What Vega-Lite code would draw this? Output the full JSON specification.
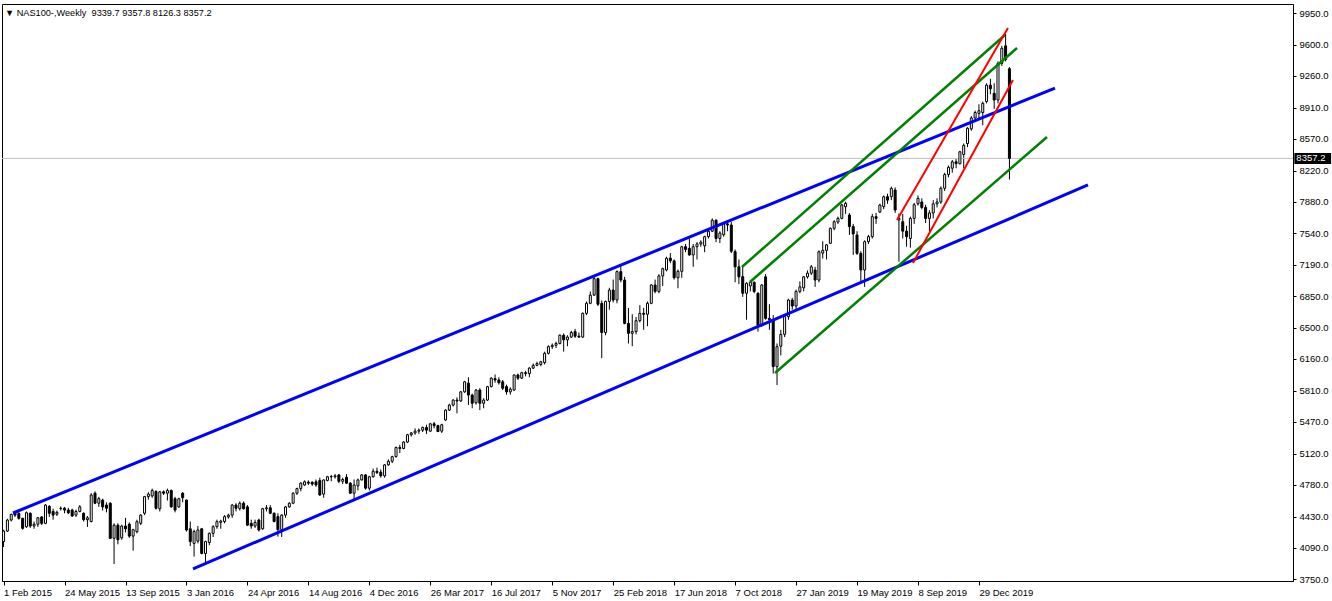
{
"$schema": "https://vega.github.io/schema/vega-lite/v6.json",
"width": 1291, "height": 577,
"autosize": {"type": "none"},
"padding": {"left": 2, "top": 4, "right": 39, "bottom": 20},
"background": "white",
"title": {"text": "▼ NAS100-,Weekly\u00a0 9339.7 9357.8 8126.3 8357.2", "anchor": "start", "frame": "group", "offset": 0, "dy": 21, "baseline": "alphabetic", "dx": 3, "font": "Liberation Sans", "fontSize": 9.2, "fontWeight": "normal", "color": "black"},
"datasets": {
"last": [{"p": 8357.2}],
"lines": [
{"set": "channel", "t1": "2015-02-18T07:00:00Z", "p1": 4473, "t2": "2020-05-16T17:00:00Z", "p2": 9128},
{"set": "channel", "t1": "2016-01-15T00:00:00Z", "p1": 3860, "t2": "2020-07-16T07:00:00Z", "p2": 8066},
{"set": "swing", "t1": "2018-10-19T14:00:00Z", "p1": 7168, "t2": "2020-02-14T19:00:00Z", "p2": 9709},
{"set": "swing", "t1": "2018-11-03T07:00:00Z", "p1": 7003, "t2": "2020-03-07T22:00:00Z", "p2": 9567},
{"set": "swing", "t1": "2018-12-19T07:00:00Z", "p1": 6007, "t2": "2020-05-02T00:00:00Z", "p2": 8592},
{"set": "rally", "t1": "2019-07-31T10:00:00Z", "p1": 7682, "t2": "2020-02-20T07:00:00Z", "p2": 9786},
{"set": "rally", "t1": "2019-08-29T19:00:00Z", "p1": 7211, "t2": "2020-02-29T12:00:00Z", "p2": 9216}
],
"candles": [
{"d":"2015-02-01","o":4160,"h":4290,"l":4100,"c":4275},
{"d":"2015-02-08","o":4275,"h":4410,"l":4265,"c":4396},
{"d":"2015-02-15","o":4396,"h":4465,"l":4380,"c":4458},
{"d":"2015-02-22","o":4470,"h":4485,"l":4430,"c":4450},
{"d":"2015-03-01","o":4468,"h":4490,"l":4400,"c":4415},
{"d":"2015-03-08","o":4415,"h":4420,"l":4290,"c":4305},
{"d":"2015-03-15","o":4323,"h":4490,"l":4310,"c":4476},
{"d":"2015-03-22","o":4470,"h":4480,"l":4310,"c":4330},
{"d":"2015-03-29","o":4330,"h":4380,"l":4300,"c":4350},
{"d":"2015-04-05","o":4350,"h":4430,"l":4320,"c":4420},
{"d":"2015-04-12","o":4430,"h":4440,"l":4340,"c":4360},
{"d":"2015-04-19","o":4360,"h":4570,"l":4350,"c":4560},
{"d":"2015-04-26","o":4545,"h":4560,"l":4430,"c":4470},
{"d":"2015-05-03","o":4490,"h":4520,"l":4400,"c":4450},
{"d":"2015-05-10","o":4460,"h":4500,"l":4440,"c":4480},
{"d":"2015-05-17","o":4520,"h":4545,"l":4500,"c":4525},
{"d":"2015-05-24","o":4525,"h":4540,"l":4470,"c":4505},
{"d":"2015-05-31","o":4505,"h":4530,"l":4460,"c":4475},
{"d":"2015-06-07","o":4505,"h":4520,"l":4430,"c":4440},
{"d":"2015-06-14","o":4450,"h":4510,"l":4430,"c":4490},
{"d":"2015-06-21","o":4490,"h":4560,"l":4480,"c":4540},
{"d":"2015-06-28","o":4470,"h":4480,"l":4380,"c":4400},
{"d":"2015-07-05","o":4400,"h":4440,"l":4320,"c":4420},
{"d":"2015-07-12","o":4380,"h":4690,"l":4370,"c":4670},
{"d":"2015-07-19","o":4690,"h":4710,"l":4570,"c":4580},
{"d":"2015-07-26","o":4580,"h":4650,"l":4540,"c":4630},
{"d":"2015-08-02","o":4615,"h":4630,"l":4500,"c":4540},
{"d":"2015-08-09","o":4560,"h":4590,"l":4480,"c":4525},
{"d":"2015-08-16","o":4580,"h":4590,"l":4190,"c":4195},
{"d":"2015-08-23","o":4196,"h":4360,"l":3915,"c":4340},
{"d":"2015-08-30","o":4340,"h":4360,"l":4130,"c":4180},
{"d":"2015-09-06","o":4200,"h":4345,"l":4180,"c":4330},
{"d":"2015-09-13","o":4330,"h":4420,"l":4260,"c":4300},
{"d":"2015-09-20","o":4350,"h":4370,"l":4200,"c":4220},
{"d":"2015-09-27","o":4220,"h":4300,"l":4060,"c":4290},
{"d":"2015-10-04","o":4268,"h":4400,"l":4250,"c":4378},
{"d":"2015-10-11","o":4360,"h":4460,"l":4340,"c":4450},
{"d":"2015-10-18","o":4470,"h":4660,"l":4450,"c":4652},
{"d":"2015-10-25","o":4652,"h":4700,"l":4620,"c":4680},
{"d":"2015-11-01","o":4660,"h":4740,"l":4640,"c":4720},
{"d":"2015-11-08","o":4710,"h":4720,"l":4510,"c":4525},
{"d":"2015-11-15","o":4520,"h":4715,"l":4490,"c":4705},
{"d":"2015-11-22","o":4705,"h":4720,"l":4670,"c":4690},
{"d":"2015-11-29","o":4690,"h":4740,"l":4610,"c":4720},
{"d":"2015-12-06","o":4720,"h":4730,"l":4530,"c":4540},
{"d":"2015-12-13","o":4630,"h":4650,"l":4480,"c":4505},
{"d":"2015-12-20","o":4540,"h":4640,"l":4530,"c":4630},
{"d":"2015-12-27","o":4690,"h":4700,"l":4590,"c":4640},
{"d":"2016-01-03","o":4615,"h":4620,"l":4270,"c":4287},
{"d":"2016-01-10","o":4300,"h":4380,"l":4110,"c":4160},
{"d":"2016-01-17","o":4140,"h":4290,"l":3995,"c":4270},
{"d":"2016-01-24","o":4165,"h":4330,"l":4140,"c":4287},
{"d":"2016-01-31","o":4300,"h":4310,"l":4020,"c":4030},
{"d":"2016-02-07","o":4030,"h":4170,"l":3922,"c":4160},
{"d":"2016-02-14","o":4150,"h":4260,"l":4120,"c":4250},
{"d":"2016-02-21","o":4250,"h":4340,"l":4210,"c":4323},
{"d":"2016-02-28","o":4323,"h":4400,"l":4300,"c":4378},
{"d":"2016-03-06","o":4370,"h":4400,"l":4300,"c":4385},
{"d":"2016-03-13","o":4380,"h":4450,"l":4360,"c":4433},
{"d":"2016-03-20","o":4430,"h":4465,"l":4410,"c":4450},
{"d":"2016-03-27","o":4450,"h":4570,"l":4420,"c":4560},
{"d":"2016-04-03","o":4560,"h":4580,"l":4490,"c":4525},
{"d":"2016-04-10","o":4520,"h":4600,"l":4500,"c":4580},
{"d":"2016-04-17","o":4580,"h":4600,"l":4510,"c":4520},
{"d":"2016-04-24","o":4540,"h":4560,"l":4330,"c":4340},
{"d":"2016-05-01","o":4360,"h":4400,"l":4300,"c":4330},
{"d":"2016-05-08","o":4330,"h":4400,"l":4310,"c":4370},
{"d":"2016-05-15","o":4396,"h":4410,"l":4270,"c":4287},
{"d":"2016-05-22","o":4300,"h":4530,"l":4290,"c":4520},
{"d":"2016-05-29","o":4520,"h":4560,"l":4490,"c":4530},
{"d":"2016-06-05","o":4530,"h":4560,"l":4460,"c":4470},
{"d":"2016-06-12","o":4470,"h":4480,"l":4370,"c":4380},
{"d":"2016-06-19","o":4433,"h":4470,"l":4214,"c":4290},
{"d":"2016-06-26","o":4290,"h":4460,"l":4210,"c":4450},
{"d":"2016-07-03","o":4450,"h":4550,"l":4420,"c":4540},
{"d":"2016-07-10","o":4540,"h":4590,"l":4530,"c":4580},
{"d":"2016-07-17","o":4580,"h":4700,"l":4570,"c":4690},
{"d":"2016-07-24","o":4690,"h":4750,"l":4670,"c":4740},
{"d":"2016-07-31","o":4740,"h":4810,"l":4710,"c":4800},
{"d":"2016-08-07","o":4780,"h":4830,"l":4770,"c":4815},
{"d":"2016-08-14","o":4810,"h":4830,"l":4780,"c":4800},
{"d":"2016-08-21","o":4810,"h":4820,"l":4770,"c":4790},
{"d":"2016-08-28","o":4815,"h":4840,"l":4760,"c":4780},
{"d":"2016-09-04","o":4830,"h":4860,"l":4660,"c":4670},
{"d":"2016-09-11","o":4680,"h":4840,"l":4640,"c":4835},
{"d":"2016-09-18","o":4830,"h":4880,"l":4820,"c":4870},
{"d":"2016-09-25","o":4870,"h":4890,"l":4820,"c":4872},
{"d":"2016-10-02","o":4870,"h":4900,"l":4850,"c":4880},
{"d":"2016-10-09","o":4890,"h":4900,"l":4800,"c":4820},
{"d":"2016-10-16","o":4820,"h":4860,"l":4790,"c":4840},
{"d":"2016-10-23","o":4865,"h":4900,"l":4790,"c":4800},
{"d":"2016-10-30","o":4800,"h":4810,"l":4680,"c":4690},
{"d":"2016-11-06","o":4690,"h":4840,"l":4620,"c":4780},
{"d":"2016-11-13","o":4770,"h":4850,"l":4720,"c":4835},
{"d":"2016-11-20","o":4835,"h":4900,"l":4830,"c":4890},
{"d":"2016-11-27","o":4890,"h":4900,"l":4730,"c":4745},
{"d":"2016-12-04","o":4745,"h":4880,"l":4720,"c":4870},
{"d":"2016-12-11","o":4870,"h":4960,"l":4860,"c":4930},
{"d":"2016-12-18","o":4930,"h":4970,"l":4900,"c":4915},
{"d":"2016-12-25","o":4920,"h":4950,"l":4860,"c":4880},
{"d":"2017-01-01","o":4880,"h":5010,"l":4860,"c":5000},
{"d":"2017-01-08","o":5000,"h":5060,"l":4990,"c":5040},
{"d":"2017-01-15","o":5040,"h":5100,"l":5020,"c":5090},
{"d":"2017-01-22","o":5090,"h":5200,"l":5080,"c":5190},
{"d":"2017-01-29","o":5190,"h":5220,"l":5130,"c":5180},
{"d":"2017-02-05","o":5180,"h":5260,"l":5170,"c":5250},
{"d":"2017-02-12","o":5250,"h":5340,"l":5240,"c":5330},
{"d":"2017-02-19","o":5330,"h":5360,"l":5310,"c":5350},
{"d":"2017-02-26","o":5350,"h":5400,"l":5330,"c":5370},
{"d":"2017-03-05","o":5370,"h":5400,"l":5340,"c":5380},
{"d":"2017-03-12","o":5380,"h":5420,"l":5360,"c":5410},
{"d":"2017-03-19","o":5410,"h":5440,"l":5340,"c":5380},
{"d":"2017-03-26","o":5370,"h":5460,"l":5360,"c":5450},
{"d":"2017-04-02","o":5450,"h":5470,"l":5400,"c":5430},
{"d":"2017-04-09","o":5430,"h":5440,"l":5360,"c":5365},
{"d":"2017-04-16","o":5370,"h":5450,"l":5350,"c":5440},
{"d":"2017-04-23","o":5492,"h":5610,"l":5480,"c":5600},
{"d":"2017-04-30","o":5600,"h":5670,"l":5590,"c":5655},
{"d":"2017-05-07","o":5655,"h":5720,"l":5640,"c":5710},
{"d":"2017-05-14","o":5710,"h":5740,"l":5565,"c":5700},
{"d":"2017-05-21","o":5700,"h":5810,"l":5690,"c":5800},
{"d":"2017-05-28","o":5800,"h":5920,"l":5790,"c":5910},
{"d":"2017-06-04","o":5895,"h":5960,"l":5656,"c":5765},
{"d":"2017-06-11","o":5765,"h":5780,"l":5620,"c":5675},
{"d":"2017-06-18","o":5680,"h":5830,"l":5660,"c":5820},
{"d":"2017-06-25","o":5820,"h":5840,"l":5600,"c":5675},
{"d":"2017-07-02","o":5675,"h":5730,"l":5620,"c":5710},
{"d":"2017-07-09","o":5710,"h":5865,"l":5700,"c":5857},
{"d":"2017-07-16","o":5857,"h":5960,"l":5850,"c":5950},
{"d":"2017-07-23","o":5945,"h":5990,"l":5900,"c":5930},
{"d":"2017-07-30","o":5930,"h":5960,"l":5880,"c":5900},
{"d":"2017-08-06","o":5910,"h":5930,"l":5820,"c":5840},
{"d":"2017-08-13","o":5857,"h":5880,"l":5770,"c":5800},
{"d":"2017-08-20","o":5800,"h":5850,"l":5770,"c":5830},
{"d":"2017-08-27","o":5820,"h":5990,"l":5810,"c":5985},
{"d":"2017-09-03","o":5985,"h":6000,"l":5930,"c":5950},
{"d":"2017-09-10","o":5950,"h":6020,"l":5940,"c":6010},
{"d":"2017-09-17","o":6010,"h":6030,"l":5970,"c":6000},
{"d":"2017-09-24","o":6000,"h":6070,"l":5960,"c":6060},
{"d":"2017-10-01","o":6060,"h":6110,"l":6050,"c":6090},
{"d":"2017-10-08","o":6090,"h":6130,"l":6080,"c":6110},
{"d":"2017-10-15","o":6100,"h":6140,"l":6080,"c":6130},
{"d":"2017-10-22","o":6120,"h":6240,"l":6100,"c":6222},
{"d":"2017-10-29","o":6222,"h":6310,"l":6210,"c":6295},
{"d":"2017-11-05","o":6295,"h":6330,"l":6270,"c":6310},
{"d":"2017-11-12","o":6310,"h":6350,"l":6280,"c":6330},
{"d":"2017-11-19","o":6330,"h":6430,"l":6320,"c":6420},
{"d":"2017-11-26","o":6420,"h":6440,"l":6240,"c":6370},
{"d":"2017-12-03","o":6370,"h":6420,"l":6300,"c":6400},
{"d":"2017-12-10","o":6400,"h":6470,"l":6390,"c":6450},
{"d":"2017-12-17","o":6460,"h":6490,"l":6390,"c":6410},
{"d":"2017-12-24","o":6410,"h":6450,"l":6390,"c":6400},
{"d":"2017-12-31","o":6400,"h":6670,"l":6390,"c":6660},
{"d":"2018-01-07","o":6660,"h":6790,"l":6640,"c":6770},
{"d":"2018-01-14","o":6770,"h":6900,"l":6760,"c":6860},
{"d":"2018-01-21","o":6860,"h":7060,"l":6850,"c":7040},
{"d":"2018-01-28","o":7040,"h":7050,"l":6740,"c":6760},
{"d":"2018-02-04","o":6770,"h":6800,"l":6170,"c":6450},
{"d":"2018-02-11","o":6450,"h":6800,"l":6420,"c":6790},
{"d":"2018-02-18","o":6790,"h":6940,"l":6700,"c":6915},
{"d":"2018-02-25","o":6915,"h":7030,"l":6780,"c":6806},
{"d":"2018-03-04","o":6806,"h":7130,"l":6770,"c":7117},
{"d":"2018-03-11","o":7117,"h":7180,"l":7000,"c":7025},
{"d":"2018-03-18","o":7025,"h":7060,"l":6540,"c":6550},
{"d":"2018-03-25","o":6550,"h":6720,"l":6330,"c":6441},
{"d":"2018-04-01","o":6441,"h":6650,"l":6300,"c":6460},
{"d":"2018-04-08","o":6460,"h":6620,"l":6430,"c":6580},
{"d":"2018-04-15","o":6580,"h":6750,"l":6560,"c":6660},
{"d":"2018-04-22","o":6660,"h":6720,"l":6480,"c":6650},
{"d":"2018-04-29","o":6650,"h":6790,"l":6520,"c":6770},
{"d":"2018-05-06","o":6770,"h":6980,"l":6760,"c":6970},
{"d":"2018-05-13","o":6970,"h":7030,"l":6880,"c":6900},
{"d":"2018-05-20","o":6900,"h":7090,"l":6880,"c":7070},
{"d":"2018-05-27","o":7070,"h":7160,"l":6960,"c":7150},
{"d":"2018-06-03","o":7135,"h":7280,"l":7120,"c":7263},
{"d":"2018-06-10","o":7265,"h":7320,"l":7210,"c":7235},
{"d":"2018-06-17","o":7235,"h":7250,"l":7030,"c":7050},
{"d":"2018-06-24","o":7050,"h":7140,"l":6935,"c":7120},
{"d":"2018-07-01","o":7120,"h":7400,"l":7050,"c":7390},
{"d":"2018-07-08","o":7390,"h":7420,"l":7330,"c":7360},
{"d":"2018-07-15","o":7372,"h":7480,"l":7290,"c":7300},
{"d":"2018-07-22","o":7300,"h":7420,"l":7170,"c":7390},
{"d":"2018-07-29","o":7390,"h":7440,"l":7250,"c":7420},
{"d":"2018-08-05","o":7420,"h":7460,"l":7390,"c":7440},
{"d":"2018-08-12","o":7400,"h":7510,"l":7330,"c":7500},
{"d":"2018-08-19","o":7500,"h":7580,"l":7480,"c":7560},
{"d":"2018-08-26","o":7560,"h":7700,"l":7550,"c":7680},
{"d":"2018-09-02","o":7680,"h":7690,"l":7440,"c":7480},
{"d":"2018-09-09","o":7480,"h":7560,"l":7430,"c":7540},
{"d":"2018-09-16","o":7520,"h":7660,"l":7500,"c":7640},
{"d":"2018-09-23","o":7640,"h":7670,"l":7560,"c":7628},
{"d":"2018-09-30","o":7628,"h":7660,"l":7320,"c":7340},
{"d":"2018-10-07","o":7336,"h":7360,"l":7000,"c":7170},
{"d":"2018-10-14","o":7170,"h":7250,"l":6980,"c":7060},
{"d":"2018-10-21","o":7062,"h":7171,"l":6840,"c":6880},
{"d":"2018-10-28","o":6880,"h":7000,"l":6590,"c":6989},
{"d":"2018-11-04","o":6960,"h":7010,"l":6900,"c":7000},
{"d":"2018-11-11","o":7000,"h":7010,"l":6880,"c":6900},
{"d":"2018-11-18","o":6880,"h":6890,"l":6460,"c":6530},
{"d":"2018-11-25","o":6530,"h":6980,"l":6510,"c":6970},
{"d":"2018-12-02","o":7060,"h":7090,"l":6590,"c":6605},
{"d":"2018-12-09","o":6605,"h":6760,"l":6480,"c":6590},
{"d":"2018-12-16","o":6590,"h":6640,"l":6000,"c":6076},
{"d":"2018-12-23","o":6076,"h":6330,"l":5875,"c":6295},
{"d":"2018-12-30","o":6300,"h":6480,"l":6200,"c":6430},
{"d":"2019-01-06","o":6430,"h":6640,"l":6400,"c":6624},
{"d":"2019-01-13","o":6624,"h":6820,"l":6590,"c":6806},
{"d":"2019-01-20","o":6806,"h":6830,"l":6700,"c":6740},
{"d":"2019-01-27","o":6740,"h":6920,"l":6700,"c":6900},
{"d":"2019-02-03","o":6900,"h":7010,"l":6880,"c":6950},
{"d":"2019-02-10","o":6940,"h":7070,"l":6900,"c":7060},
{"d":"2019-02-17","o":7060,"h":7130,"l":7040,"c":7100},
{"d":"2019-02-24","o":7100,"h":7190,"l":7080,"c":7170},
{"d":"2019-03-03","o":7135,"h":7170,"l":6950,"c":7025},
{"d":"2019-03-10","o":7025,"h":7350,"l":7000,"c":7335},
{"d":"2019-03-17","o":7320,"h":7450,"l":7260,"c":7350},
{"d":"2019-03-24","o":7350,"h":7420,"l":7250,"c":7410},
{"d":"2019-03-31","o":7427,"h":7600,"l":7420,"c":7591},
{"d":"2019-04-07","o":7591,"h":7680,"l":7570,"c":7664},
{"d":"2019-04-14","o":7660,"h":7720,"l":7640,"c":7700},
{"d":"2019-04-21","o":7700,"h":7860,"l":7690,"c":7847},
{"d":"2019-04-28","o":7828,"h":7883,"l":7750,"c":7865},
{"d":"2019-05-05","o":7737,"h":7760,"l":7520,"c":7610},
{"d":"2019-05-12","o":7610,"h":7640,"l":7300,"c":7530},
{"d":"2019-05-19","o":7518,"h":7560,"l":7300,"c":7317},
{"d":"2019-05-26","o":7317,"h":7340,"l":7007,"c":7135},
{"d":"2019-06-02","o":7135,"h":7460,"l":6950,"c":7445},
{"d":"2019-06-09","o":7445,"h":7520,"l":7420,"c":7500},
{"d":"2019-06-16","o":7500,"h":7750,"l":7480,"c":7719},
{"d":"2019-06-23","o":7719,"h":7760,"l":7640,"c":7700},
{"d":"2019-06-30","o":7770,"h":7860,"l":7760,"c":7847},
{"d":"2019-07-07","o":7828,"h":7950,"l":7800,"c":7938},
{"d":"2019-07-14","o":7938,"h":7970,"l":7860,"c":7900},
{"d":"2019-07-21","o":7938,"h":8048,"l":7900,"c":8029},
{"d":"2019-07-28","o":8011,"h":8040,"l":7760,"c":7792},
{"d":"2019-08-04","o":7683,"h":7755,"l":7226,"c":7700},
{"d":"2019-08-11","o":7664,"h":7750,"l":7480,"c":7560},
{"d":"2019-08-18","o":7560,"h":7620,"l":7390,"c":7500},
{"d":"2019-08-25","o":7480,"h":7720,"l":7380,"c":7700},
{"d":"2019-09-01","o":7700,"h":7870,"l":7640,"c":7850},
{"d":"2019-09-08","o":7860,"h":7950,"l":7840,"c":7920},
{"d":"2019-09-15","o":7880,"h":7920,"l":7800,"c":7820},
{"d":"2019-09-22","o":7820,"h":7850,"l":7650,"c":7700},
{"d":"2019-09-29","o":7700,"h":7790,"l":7560,"c":7760},
{"d":"2019-10-06","o":7760,"h":7900,"l":7700,"c":7860},
{"d":"2019-10-13","o":7860,"h":7920,"l":7820,"c":7880},
{"d":"2019-10-20","o":7880,"h":8050,"l":7860,"c":8030},
{"d":"2019-10-27","o":8030,"h":8200,"l":8000,"c":8180},
{"d":"2019-11-03","o":8180,"h":8280,"l":8150,"c":8260},
{"d":"2019-11-10","o":8250,"h":8340,"l":8200,"c":8320},
{"d":"2019-11-17","o":8320,"h":8350,"l":8250,"c":8300},
{"d":"2019-11-24","o":8300,"h":8440,"l":8290,"c":8430},
{"d":"2019-12-01","o":8400,"h":8520,"l":8250,"c":8500},
{"d":"2019-12-08","o":8520,"h":8700,"l":8480,"c":8687},
{"d":"2019-12-15","o":8680,"h":8820,"l":8660,"c":8800},
{"d":"2019-12-22","o":8800,"h":8880,"l":8780,"c":8860},
{"d":"2019-12-29","o":8850,"h":8950,"l":8780,"c":8880},
{"d":"2020-01-05","o":8860,"h":8980,"l":8720,"c":8960},
{"d":"2020-01-12","o":8980,"h":9180,"l":8960,"c":9160},
{"d":"2020-01-19","o":9160,"h":9230,"l":9060,"c":9120},
{"d":"2020-01-26","o":9070,"h":9180,"l":8900,"c":8997},
{"d":"2020-02-02","o":8997,"h":9420,"l":8960,"c":9398},
{"d":"2020-02-09","o":9398,"h":9590,"l":9370,"c":9563},
{"d":"2020-02-16","o":9590,"h":9720,"l":9420,"c":9440},
{"d":"2020-02-23","o":9339.7,"h":9357.8,"l":8126.3,"c":8357.2}
]
},
"layer": [
{"data": {"name": "candles"}, "mark": {"type": "rule", "color": "black", "strokeWidth": 1},
 "encoding": {
  "x": {"field": "d", "type": "temporal",
   "scale": {"type": "utc", "padding": 0, "domain": [{"year": 2015, "month": 1, "date": 29, "hours": 2, "utc": true}, {"year": 2021, "month": 7, "date": 28, "utc": true}]},
   "axis": {"values": [
     {"year": 2015, "month": 2, "date": 1, "utc": true},
     {"year": 2015, "month": 5, "date": 24, "utc": true},
     {"year": 2015, "month": 9, "date": 13, "utc": true},
     {"year": 2016, "month": 1, "date": 3, "utc": true},
     {"year": 2016, "month": 4, "date": 24, "utc": true},
     {"year": 2016, "month": 8, "date": 14, "utc": true},
     {"year": 2016, "month": 12, "date": 4, "utc": true},
     {"year": 2017, "month": 3, "date": 26, "utc": true},
     {"year": 2017, "month": 7, "date": 16, "utc": true},
     {"year": 2017, "month": 11, "date": 5, "utc": true},
     {"year": 2018, "month": 2, "date": 25, "utc": true},
     {"year": 2018, "month": 6, "date": 17, "utc": true},
     {"year": 2018, "month": 10, "date": 7, "utc": true},
     {"year": 2019, "month": 1, "date": 27, "utc": true},
     {"year": 2019, "month": 5, "date": 19, "utc": true},
     {"year": 2019, "month": 9, "date": 8, "utc": true},
     {"year": 2019, "month": 12, "date": 29, "utc": true}],
    "labelExpr": "utcFormat(datum.value, '%-d %b %Y')", "tickSize": 4, "labelAlign": "left", "labelPadding": 2, "labelOverlap": false, "labelFlush": false, "title": null}},
  "y": {"field": "l", "type": "quantitative",
   "scale": {"domain": [3728.1, 10048.6], "nice": false, "zero": false, "padding": 0},
   "axis": {"orient": "right", "values": [3750,4090,4430,4780,5120,5470,5810,6160,6500,6850,7190,7540,7880,8220,8570,8910,9260,9600,9950], "labelExpr": "format(datum.value, '.1f')", "tickSize": 3, "labelPadding": 3, "labelOverlap": false, "labelSeparation": 0, "labelFlush": false, "labelBound": false, "title": null}},
  "y2": {"field": "h"}}},
{"data": {"name": "last"}, "mark": {"type": "rule", "color": "#c0c0c0", "strokeWidth": 1},
 "encoding": {"y": {"field": "p", "type": "quantitative"}}},
{"data": {"name": "candles"}, "mark": {"type": "bar", "width": 2, "stroke": "black", "strokeWidth": 1},
 "encoding": {
  "x": {"field": "d", "type": "temporal"},
  "y": {"field": "o", "type": "quantitative"},
  "y2": {"field": "c"},
  "fill": {"condition": {"test": "datum.c >= datum.o", "value": "white"}, "value": "black"}}},
{"data": {"name": "lines"}, "mark": {"type": "rule", "strokeCap": "butt"},
 "encoding": {
  "x": {"field": "t1", "type": "temporal"},
  "x2": {"field": "t2"},
  "y": {"field": "p1", "type": "quantitative"},
  "y2": {"field": "p2"},
  "color": {"field": "set", "type": "nominal", "scale": {"domain": ["channel", "swing", "rally"], "range": ["#0000ff", "#008000", "#ff0000"]}, "legend": null},
  "strokeWidth": {"field": "set", "type": "ordinal", "scale": {"domain": ["channel", "swing", "rally"], "range": [3, 2, 3]}, "legend": null}}},
{"data": {"name": "last"}, "mark": {"type": "bar", "height": 11, "color": "black", "clip": false},
 "encoding": {
  "x": {"datum": {"year": 2021, "month": 7, "date": 30, "hours": 12, "utc": true}, "type": "temporal"},
  "x2": {"datum": {"year": 2021, "month": 10, "date": 6, "utc": true}},
  "y": {"field": "p", "type": "quantitative"}}},
{"data": {"name": "last"}, "mark": {"type": "text", "color": "white", "align": "left", "baseline": "middle", "font": "Liberation Sans", "fontSize": 9.5, "dx": 2, "clip": false},
 "encoding": {
  "x": {"datum": {"year": 2021, "month": 7, "date": 30, "hours": 12, "utc": true}, "type": "temporal"},
  "y": {"field": "p", "type": "quantitative"},
  "text": {"field": "p", "type": "quantitative", "format": ".1f"}}}
],
"config": {
 "view": {"stroke": "black", "strokeWidth": 1},
 "axis": {"grid": false, "domainColor": "black", "tickColor": "black", "labelColor": "black", "labelFont": "Liberation Sans", "labelFontSize": 9.5, "labelOverlap": false},
 "axisY": {"labelOverlap": false},
 "axisRight": {"labelOverlap": false},
 "axisQuantitative": {"labelOverlap": false, "tickCount": 19}
}
}
